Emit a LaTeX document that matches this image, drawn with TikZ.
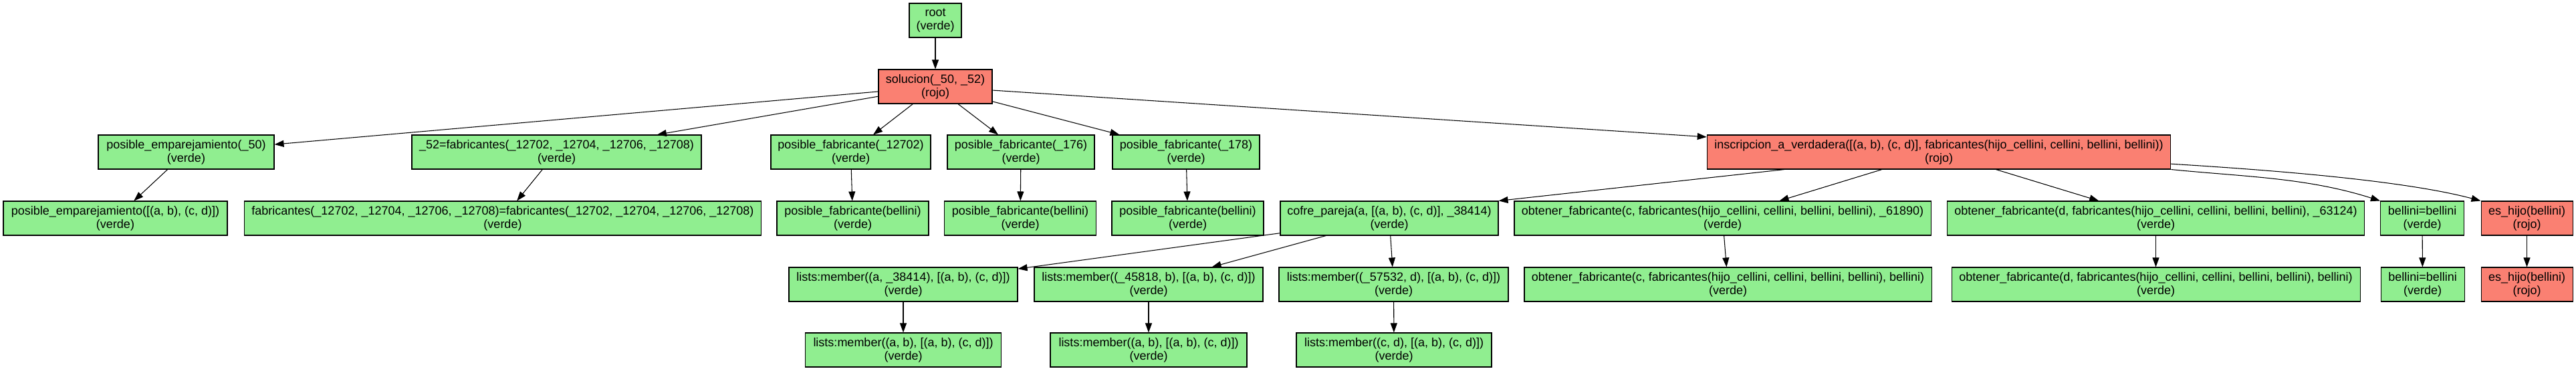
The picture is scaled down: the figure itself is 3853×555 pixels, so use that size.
\documentclass[tikz,border=0pt]{standalone}
\usepackage{fontspec}
\setmainfont{Liberation Sans}
\usetikzlibrary{arrows.meta,calc}
\definecolor{verde}{HTML}{90EE90}
\definecolor{rojo}{HTML}{FA8072}
\tikzset{
  box/.style={rectangle, draw=black, line width=0.8pt, inner sep=0pt,
    minimum height=38.25pt, align=center,
    font=\fontsize{13.5pt}{15pt}\selectfont},
  gbox/.style={box, fill=verde},
  rbox/.style={box, fill=rojo},
  wd/.style={minimum width=#1*0.75pt},
  conn/.style={draw=black, line width=0.8pt, -{Triangle[length=10.5pt,width=7.5pt]}}
}
\begin{document}
\begin{tikzpicture}[x=0.75pt,y=-0.75pt]
\useasboundingbox (0,0) rectangle (3853,555);
% level 0
\node[gbox,wd=78] (root) at (1399,30.5) {root\\(verde)};
% level 1
\node[rbox,wd=170] (sol) at (1399,129.5) {solucion(\_50, \_52)\\(rojo)};
% level 2
\node[gbox,wd=263] (pe50) at (278.5,227.5) {posible\_emparejamiento(\_50)\\(verde)};
\node[gbox,wd=433] (f52) at (832.5,227.5) {\_52=fabricantes(\_12702, \_12704, \_12706, \_12708)\\(verde)};
\node[gbox,wd=239] (pf12702) at (1272.5,227.5) {posible\_fabricante(\_12702)\\(verde)};
\node[gbox,wd=220] (pf176) at (1527,227.5) {posible\_fabricante(\_176)\\(verde)};
\node[gbox,wd=220] (pf178) at (1774,227.5) {posible\_fabricante(\_178)\\(verde)};
\node[rbox,wd=693.5] (insc) at (2900,227.5) {inscripcion\_a\_verdadera([(a, b), (c, d)], fabricantes(hijo\_cellini, cellini, bellini, bellini))\\(rojo)};
% level 3
\node[gbox,wd=335] (pe) at (172.5,326.5) {posible\_emparejamiento([(a, b), (c, d)])\\(verde)};
\node[gbox,wd=773.5] (ff) at (752,326.5) {fabricantes(\_12702, \_12704, \_12706, \_12708)=fabricantes(\_12702, \_12704, \_12706, \_12708)\\(verde)};
\node[gbox,wd=227] (pfb1) at (1275.5,326.5) {posible\_fabricante(bellini)\\(verde)};
\node[gbox,wd=227] (pfb2) at (1526,326.5) {posible\_fabricante(bellini)\\(verde)};
\node[gbox,wd=227] (pfb3) at (1776.5,326.5) {posible\_fabricante(bellini)\\(verde)};
\node[gbox,wd=326] (cofre) at (2078,326.5) {cofre\_pareja(a, [(a, b), (c, d)], \_38414)\\(verde)};
\node[gbox,wd=623] (of1) at (2576.5,326.5) {obtener\_fabricante(c, fabricantes(hijo\_cellini, cellini, bellini, bellini), \_61890)\\(verde)};
\node[gbox,wd=624] (of2) at (3224.5,326.5) {obtener\_fabricante(d, fabricantes(hijo\_cellini, cellini, bellini, bellini), \_63124)\\(verde)};
\node[gbox,wd=125] (bb) at (3623,326.5) {bellini=bellini\\(verde)};
\node[rbox,wd=137] (eh) at (3779.5,326.5) {es\_hijo(bellini)\\(rojo)};
% level 4
\node[gbox,wd=342] (lm1) at (1351,425.5) {lists:member((a, \_38414), [(a, b), (c, d)])\\(verde)};
\node[gbox,wd=342] (lm2) at (1718,425.5) {lists:member((\_45818, b), [(a, b), (c, d)])\\(verde)};
\node[gbox,wd=343] (lm3) at (2084.5,425.5) {lists:member((\_57532, d), [(a, b), (c, d)])\\(verde)};
\node[gbox,wd=609] (of1b) at (2584.5,425.5) {obtener\_fabricante(c, fabricantes(hijo\_cellini, cellini, bellini, bellini), bellini)\\(verde)};
\node[gbox,wd=611] (of2b) at (3224.5,425.5) {obtener\_fabricante(d, fabricantes(hijo\_cellini, cellini, bellini, bellini), bellini)\\(verde)};
\node[gbox,wd=125] (bbb) at (3623.5,425.5) {bellini=bellini\\(verde)};
\node[rbox,wd=137] (ehb) at (3779.5,425.5) {es\_hijo(bellini)\\(rojo)};
% level 5
\node[gbox,wd=293.5] (lm1b) at (1351,523.5) {lists:member((a, b), [(a, b), (c, d)])\\(verde)};
\node[gbox,wd=294] (lm2b) at (1718,523.5) {lists:member((a, b), [(a, b), (c, d)])\\(verde)};
\node[gbox,wd=292] (lm3b) at (2085,523.5) {lists:member((c, d), [(a, b), (c, d)])\\(verde)};
% connectors
\path[conn] (root) -- (sol);
\path[conn] (sol) -- (pe50);
\path[conn] (sol) -- (f52);
\path[conn] (sol) -- (pf12702);
\path[conn] (sol) -- (pf176);
\path[conn] (sol) -- (pf178);
\path[conn] (sol) -- (insc);
\path[conn] (pe50) -- (pe);
\path[conn] (f52) -- (ff);
\path[conn] (pf12702) -- (pfb1);
\path[conn] (pf176) -- (pfb2);
\path[conn] (pf178) -- (pfb3);
\path[conn] ($(insc.south)+(-231,0)$) -- (cofre.north east);
\path[conn] (insc) -- (of1);
\path[conn] (insc) -- (of2);
\path[conn] (insc.south east) .. controls +(110,11) and +(-110,-35) .. (bb.north west);
\path[conn] ($(insc.east)+(0,17.7)$) .. controls +(130,8) and +(-120,-32) .. (eh.north west);
\path[conn] (cofre) -- (lm1);
\path[conn] (cofre) -- (lm2);
\path[conn] (cofre) -- (lm3);
\path[conn] (of1) -- (of1b);
\path[conn] (of2) -- (of2b);
\path[conn] (bb) -- (bbb);
\path[conn] (eh) -- (ehb);
\path[conn] (lm1) -- (lm1b);
\path[conn] (lm2) -- (lm2b);
\path[conn] (lm3) -- (lm3b);
\end{tikzpicture}
\end{document}
